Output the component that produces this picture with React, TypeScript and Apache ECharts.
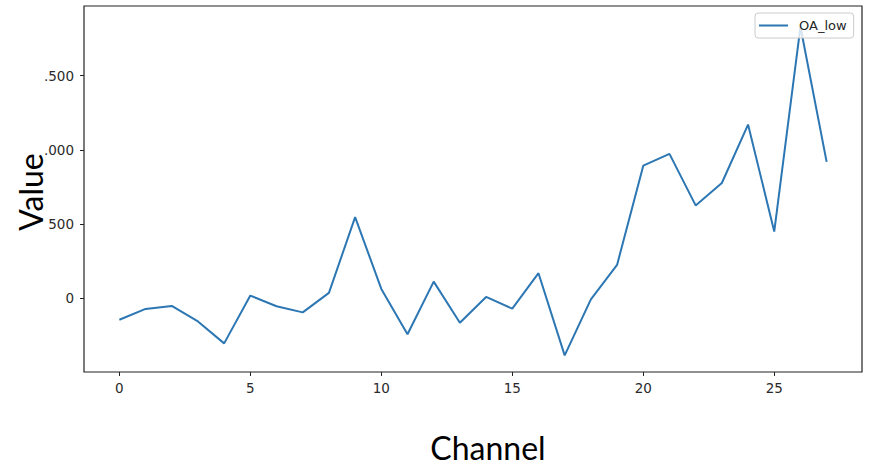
import React, { useEffect, useRef } from "react";
import * as echarts from "echarts";

const channels: number[] = [0, 1, 2, 3, 4, 5, 6, 7, 8, 9, 10, 11, 12, 13, 14, 15, 16, 17, 18, 19, 20, 21, 22, 23, 24, 25, 26, 27];
const oaLow: number[] = [-145, -72, -52, -156, -304, 18, -54, -95, 36, 547, 63, -243, 112, -165, 9, -70, 169, -385, -7, 225, 894, 973, 626, 777, 1171, 450, 1830, 919];
const xTicks: number[] = [0, 5, 10, 15, 20, 25];
const yTicks: number[] = [0, 500, 1000, 1500];
const yTickLabels: Record<number, string> = { 0: "0", 500: "500", 1000: ".000", 1500: ".500" };
const seriesName = "OA_low";
const xTitle = "Channel";
const yTitle = "Value";

export default function App() {
  const ref = useRef<HTMLDivElement>(null);
  useEffect(() => {
    if (!ref.current) return;
    const chart = echarts.init(ref.current, null, { renderer: "svg" });
    const tickFont = { fontFamily: "DejaVu Sans", fontSize: 13.5, color: "#2a2a2a" };
    chart.setOption({
      animation: false,
      backgroundColor: "#ffffff",
      grid: {
        left: 84,
        top: 6,
        right: 8,
        bottom: 93,
        show: true,
        borderColor: "#222222",
        borderWidth: 1.2,
        backgroundColor: "transparent",
      },
      legend: {
        data: [{ name: seriesName, icon: "rect" }],
        left: 755,
        top: 13,
        padding: [6, 7, 6, 4],
        itemWidth: 29,
        itemHeight: 2,
        borderColor: "#cccccc",
        borderWidth: 1,
        borderRadius: 3,
        backgroundColor: "rgba(255,255,255,0.8)",
        z: 10,
        textStyle: { fontFamily: "DejaVu Sans", fontSize: 13, color: "#262626", padding: [0, 0, 0, 6] },
      },
      xAxis: {
        type: "value",
        min: -1.35,
        max: 28.35,
        axisLine: { show: false, onZero: false },
        splitLine: { show: false },
        axisTick: { show: true, length: 4, lineStyle: { color: "#222222" }, customValues: xTicks },
        axisLabel: { ...tickFont, margin: 9, customValues: xTicks, formatter: (v: number) => String(v) },
      },
      yAxis: {
        type: "value",
        min: -497,
        max: 1970,
        axisLine: { show: false, onZero: false },
        splitLine: { show: false },
        axisTick: { show: true, length: 4, lineStyle: { color: "#222222" }, customValues: yTicks },
        axisLabel: {
          ...tickFont,
          margin: 10,
          customValues: yTicks,
          formatter: (v: number) => yTickLabels[v] ?? String(v),
        },
      },
      series: [
        {
          name: seriesName,
          type: "line",
          data: channels.map((c, i) => [c, oaLow[i]]),
          showSymbol: false,
          symbol: "none",
          lineStyle: { color: "#2c77b3", width: 2 },
          itemStyle: { color: "#2c77b3" },
          z: 2,
        },
      ],
      graphic: [
        {
          type: "text",
          x: 30,
          y: 192,
          rotation: Math.PI / 2,
          style: {
            text: yTitle,
            fontFamily: "Lato",
            fontSize: 32,
            fill: "#000000",
            align: "center",
            verticalAlign: "middle",
          },
        },
        {
          type: "text",
          x: 488,
          y: 447,
          style: {
            text: xTitle,
            fontFamily: "Lato",
            fontSize: 32,
            fill: "#000000",
            align: "center",
            verticalAlign: "middle",
          },
        },
      ],
    });
    return () => chart.dispose();
  }, []);
  return <div ref={ref} style={{ position: "fixed", left: 0, top: 0, width: 870, height: 465 }} />;
}
